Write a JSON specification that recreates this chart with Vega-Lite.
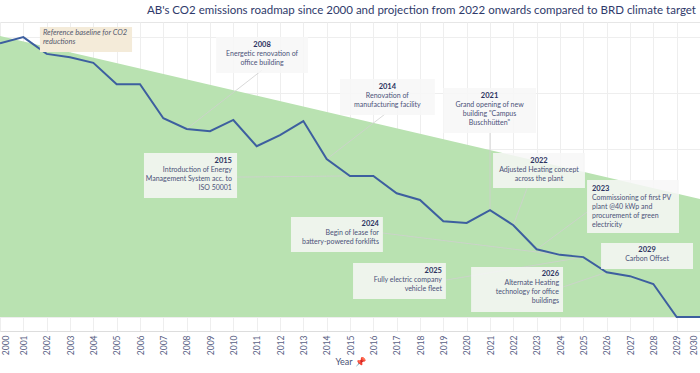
{
  "$schema": "https://vega.github.io/schema/vega-lite/v6.json",
  "width": 700,
  "height": 309,
  "autosize": {"type": "none"},
  "padding": {"left": 0, "top": 22, "right": 0, "bottom": 42},
  "title": {"text": "AB's CO2 emissions roadmap since 2000 and projection from 2022 onwards compared to BRD climate target", "anchor": "end", "frame": "group", "font": "Lato", "fontSize": 11.5, "fontWeight": "normal", "color": "#2f3a6b", "offset": 6, "dx": -4},
  "config": {
    "view": {"stroke": "#e6e6e6"},
    "text": {"font": "Lato"},
    "axisX": {"tickCount": 31, "labelOverlap": false, "labelSeparation": 0}
  },
  "datasets": {
    "emissions": [
      {"year": 2000, "co2": 489}, {"year": 2001, "co2": 500}, {"year": 2002, "co2": 470}, {"year": 2003, "co2": 464},
      {"year": 2004, "co2": 454}, {"year": 2005, "co2": 416}, {"year": 2006, "co2": 416}, {"year": 2007, "co2": 355},
      {"year": 2008, "co2": 336}, {"year": 2009, "co2": 332}, {"year": 2010, "co2": 352}, {"year": 2011, "co2": 305},
      {"year": 2012, "co2": 325}, {"year": 2013, "co2": 350}, {"year": 2014, "co2": 282}, {"year": 2015, "co2": 252},
      {"year": 2016, "co2": 252}, {"year": 2017, "co2": 221}, {"year": 2018, "co2": 209}, {"year": 2019, "co2": 171},
      {"year": 2020, "co2": 168}, {"year": 2021, "co2": 191}, {"year": 2022, "co2": 164}, {"year": 2023, "co2": 121},
      {"year": 2024, "co2": 111}, {"year": 2025, "co2": 107}, {"year": 2026, "co2": 80}, {"year": 2027, "co2": 73},
      {"year": 2028, "co2": 59}, {"year": 2029, "co2": 0}, {"year": 2030, "co2": 0}
    ],
    "baseline": [{"year": 2000, "co2": 502}, {"year": 2030, "co2": 211}],
    "refNote": [
      {"lines": ["Reference baseline for CO2", "reductions"], "x1": 2001.71, "x2": 2005.66, "y1": 517.9, "y2": 473.2, "tx": 2001.84, "ty": 514}
    ],
    "notesCenter": [
      {"label": "2008", "lines": ["Energetic renovation of", "office building"], "x1": 2009.26, "x2": 2013.2, "y1": 500, "y2": 435.7, "tx": 2011.23, "ty": 493, "cx": 2011.23, "cy": 441, "target": 2008, "tco2": 336},
      {"label": "2014", "lines": ["Renovation of", "manufacturing facility"], "x1": 2014.57, "x2": 2018.64, "y1": 425, "y2": 360.7, "tx": 2016.6, "ty": 418, "cx": 2016.5, "cy": 362.5, "target": 2014, "tco2": 282},
      {"label": "2021", "lines": ["Grand opening of new", "building \"Campus", "Buschhütten\""], "x1": 2018.99, "x2": 2022.97, "y1": 408.9, "y2": 328.6, "tx": 2020.98, "ty": 402, "cx": 2021, "cy": 328.6, "target": 2021, "tco2": 191},
      {"label": "2022", "lines": ["Adjusted Heating concept", "across the plant"], "x1": 2021.13, "x2": 2025.07, "y1": 292.9, "y2": 230.4, "tx": 2023.1, "ty": 286, "cx": 2022.59, "cy": 230.4, "target": 2022, "tco2": 164},
      {"label": "2029", "lines": ["Carbon Offset"], "x1": 2025.76, "x2": 2029.7, "y1": 132.1, "y2": 85.7, "tx": 2027.73, "ty": 127}
    ],
    "notesRight": [
      {"label": "2015", "lines": ["Introduction of Energy", "Management System acc. to", "ISO 50001"], "x1": 2006.17, "x2": 2010.16, "y1": 292.9, "y2": 212.5, "tx": 2009.94, "ty": 286, "cx": 2010.16, "cy": 250, "target": 2015, "tco2": 252},
      {"label": "2024", "lines": ["Begin of lease for", "battery-powered forklifts"], "x1": 2012.47, "x2": 2016.41, "y1": 178.6, "y2": 116.1, "tx": 2016.24, "ty": 173, "cx": 2016.41, "cy": 150, "target": 2024, "tco2": 111},
      {"label": "2025", "lines": ["Fully electric company", "vehicle fleet"], "x1": 2015.13, "x2": 2019.11, "y1": 96.4, "y2": 32.1, "tx": 2018.94, "ty": 89, "cx": 2019.11, "cy": 66, "target": 2025, "tco2": 107},
      {"label": "2026", "lines": ["Alternate Heating", "technology for office", "buildings"], "x1": 2020.19, "x2": 2024.13, "y1": 89.3, "y2": 8.9, "tx": 2023.96, "ty": 84, "cx": 2024.13, "cy": 53.6, "target": 2026, "tco2": 80}
    ],
    "notesLeft": [
      {"label": "2023", "lines": ["Commissioning of first PV", "plant @40 kWp and", "procurement of green", "electricity"], "x1": 2025.16, "x2": 2029.1, "y1": 244.6, "y2": 150, "tx": 2025.37, "ty": 236, "cx": 2025.16, "cy": 187.5, "target": 2023, "tco2": 121}
    ]
  },
  "layer": [
    {
      "data": {"name": "baseline"},
      "mark": {"type": "area", "color": "#b9e2b1", "opacity": 1},
      "encoding": {
        "x": {"field": "year", "type": "quantitative", "scale": {"domain": [2000, 2030], "nice": false, "zero": false},
          "axis": {"values": [2000,2001,2002,2003,2004,2005,2006,2007,2008,2009,2010,2011,2012,2013,2014,2015,2016,2017,2018,2019,2020,2021,2022,2023,2024,2025,2026,2027,2028,2029,2030],
            "tickCount": 31, "format": "d", "labelAngle": -90, "labelFont": "Lato", "labelFontSize": 8.5, "labelColor": "#5a6285", "ticks": false,
            "labelOverlap": false, "labelBound": false, "labelFlush": false, "labelSeparation": 0,
            "domainColor": "#dddddd", "gridColor": "#eeeeee", "labelPadding": 4,
            "labelOffset": {"condition": [{"test": "datum.value == 2000", "value": 5}, {"test": "datum.value == 2030", "value": -7}], "value": 0},
            "title": "Year 📌", "titleFont": "Lato", "titleFontSize": 9, "titleFontWeight": "normal", "titleColor": "#4a5275", "titlePadding": 3}},
        "y": {"field": "co2", "type": "quantitative", "scale": {"domain": [-25, 527], "nice": false, "zero": false},
          "axis": {"values": [0,50,100,150,200,250,300,350,400,450,500], "labels": false, "ticks": false, "domain": false, "title": null, "gridColor": "#eeeeee"}},
        "y2": {"datum": 0}
      }
    },
    {
      "data": {"name": "notesCenter"},
      "transform": [{"filter": "isValid(datum.cx)"}],
      "mark": {"type": "rule", "color": "#cfcfcf", "strokeWidth": 0.8},
      "encoding": {"x": {"field": "cx", "type": "quantitative"}, "y": {"field": "cy", "type": "quantitative"}, "x2": {"field": "target"}, "y2": {"field": "tco2"}}
    },
    {
      "data": {"name": "notesRight"},
      "mark": {"type": "rule", "color": "#cfcfcf", "strokeWidth": 0.8},
      "encoding": {"x": {"field": "cx", "type": "quantitative"}, "y": {"field": "cy", "type": "quantitative"}, "x2": {"field": "target"}, "y2": {"field": "tco2"}}
    },
    {
      "data": {"name": "notesLeft"},
      "mark": {"type": "rule", "color": "#cfcfcf", "strokeWidth": 0.8},
      "encoding": {"x": {"field": "cx", "type": "quantitative"}, "y": {"field": "cy", "type": "quantitative"}, "x2": {"field": "target"}, "y2": {"field": "tco2"}}
    },
    {
      "data": {"name": "emissions"},
      "mark": {"type": "line", "color": "#3d5f9f", "strokeWidth": 2},
      "encoding": {"x": {"field": "year", "type": "quantitative"}, "y": {"field": "co2", "type": "quantitative"}}
    },
    {
      "data": {"name": "refNote"},
      "layer": [
        {"mark": {"type": "rect", "color": "#f4ebd9"},
          "encoding": {"x": {"field": "x1", "type": "quantitative"}, "x2": {"field": "x2"}, "y": {"field": "y1", "type": "quantitative"}, "y2": {"field": "y2"}}},
        {"mark": {"type": "text", "align": "left", "baseline": "top", "fontSize": 7.5, "fontStyle": "italic", "lineHeight": 9, "color": "#555a6e"},
          "encoding": {"x": {"field": "tx", "type": "quantitative"}, "y": {"field": "ty", "type": "quantitative"}, "text": {"field": "lines"}}}
      ]
    },
    {
      "data": {"name": "notesCenter"},
      "layer": [
        {"mark": {"type": "rect", "color": "#f7f7f7", "opacity": 0.85},
          "encoding": {"x": {"field": "x1", "type": "quantitative"}, "x2": {"field": "x2"}, "y": {"field": "y1", "type": "quantitative"}, "y2": {"field": "y2"}}},
        {"mark": {"type": "text", "align": "center", "baseline": "top", "fontSize": 7.5, "fontWeight": "bold", "color": "#2b3260"},
          "encoding": {"x": {"field": "tx", "type": "quantitative"}, "y": {"field": "ty", "type": "quantitative"}, "text": {"field": "label"}}},
        {"mark": {"type": "text", "align": "center", "baseline": "top", "fontSize": 7, "lineHeight": 9, "dy": 9, "color": "#4b5278"},
          "encoding": {"x": {"field": "tx", "type": "quantitative"}, "y": {"field": "ty", "type": "quantitative"}, "text": {"field": "lines"}}}
      ]
    },
    {
      "data": {"name": "notesRight"},
      "layer": [
        {"mark": {"type": "rect", "color": "#f7f7f7", "opacity": 0.85},
          "encoding": {"x": {"field": "x1", "type": "quantitative"}, "x2": {"field": "x2"}, "y": {"field": "y1", "type": "quantitative"}, "y2": {"field": "y2"}}},
        {"mark": {"type": "text", "align": "right", "baseline": "top", "fontSize": 7.5, "fontWeight": "bold", "color": "#2b3260"},
          "encoding": {"x": {"field": "tx", "type": "quantitative"}, "y": {"field": "ty", "type": "quantitative"}, "text": {"field": "label"}}},
        {"mark": {"type": "text", "align": "right", "baseline": "top", "fontSize": 7, "lineHeight": 9, "dy": 9, "color": "#4b5278"},
          "encoding": {"x": {"field": "tx", "type": "quantitative"}, "y": {"field": "ty", "type": "quantitative"}, "text": {"field": "lines"}}}
      ]
    },
    {
      "data": {"name": "notesLeft"},
      "layer": [
        {"mark": {"type": "rect", "color": "#f7f7f7", "opacity": 0.85},
          "encoding": {"x": {"field": "x1", "type": "quantitative"}, "x2": {"field": "x2"}, "y": {"field": "y1", "type": "quantitative"}, "y2": {"field": "y2"}}},
        {"mark": {"type": "text", "align": "left", "baseline": "top", "fontSize": 7.5, "fontWeight": "bold", "color": "#2b3260"},
          "encoding": {"x": {"field": "tx", "type": "quantitative"}, "y": {"field": "ty", "type": "quantitative"}, "text": {"field": "label"}}},
        {"mark": {"type": "text", "align": "left", "baseline": "top", "fontSize": 7, "lineHeight": 9, "dy": 9, "color": "#4b5278"},
          "encoding": {"x": {"field": "tx", "type": "quantitative"}, "y": {"field": "ty", "type": "quantitative"}, "text": {"field": "lines"}}}
      ]
    }
  ]
}
